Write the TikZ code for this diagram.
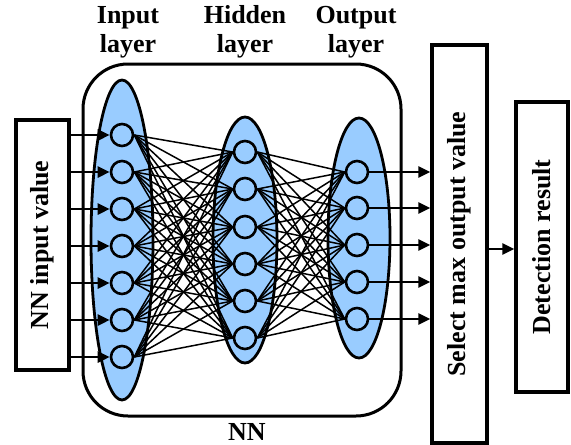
\documentclass[tikz,border=0pt]{standalone}
\usepackage{fontspec}
\setmainfont{Liberation Serif}
\usetikzlibrary{arrows.meta}
\definecolor{layerblue}{RGB}{153,204,255}
\pgfdeclarelayer{ellipses}
\pgfdeclarelayer{edges}
\pgfsetlayers{ellipses,edges,main}
\begin{document}
\begin{tikzpicture}[x=1pt,y=-1pt,
  lbl/.style={font=\fontsize{26}{29}\selectfont\bfseries, align=center, inner sep=0pt},
  box/.style={draw, line width=3.2pt, minimum width=#1, inner sep=0pt},
  layer/.style={draw, line width=2.8pt, fill=layerblue},
  neuron/.style={circle, draw, line width=2.6pt, fill=layerblue, minimum size=22pt, inner sep=0pt},
  conn/.style={line width=1.5pt},
  arr/.style={line width=2.6pt, -{Triangle[length=12pt,width=11pt]}}
]
\useasboundingbox (0,0) rectangle (571,445);

% NN frame
\draw[line width=3pt, rounded corners=45pt] (83,64) rectangle (401,416);

% neurons
\foreach \i/\y in {1/135,2/172,3/209,4/246,5/283,6/320,7/357}
  \node[neuron] (i\i) at (122,\y) {};
\foreach \i/\y in {1/152,2/189,3/227,4/264,5/301,6/338}
  \node[neuron] (h\i) at (245,\y) {};
\foreach \i/\y in {1/172,2/208,3/245,4/282,5/319}
  \node[neuron] (o\i) at (357,\y) {};

% layer ellipses
\begin{pgfonlayer}{ellipses}
\draw[layer] (122,240) ellipse [x radius=31, y radius=160];
\draw[layer] (245,240) ellipse [x radius=32, y radius=123];
\draw[layer] (359,238) ellipse [x radius=31, y radius=120];
\end{pgfonlayer}

% connections
\begin{pgfonlayer}{edges}
\foreach \a in {1,...,7}
  \foreach \b in {1,...,6}
    \draw[conn] (i\a.east) -- (h\b.west);
\foreach \a in {1,...,6}
  \foreach \b in {1,...,5}
    \draw[conn] (h\a.east) -- (o\b.west);
\end{pgfonlayer}

% boxes
\node[box=53pt, minimum height=250pt] (inp) at (42.5,245) {};
\node[lbl, rotate=90] at (inp.center) {NN input value};
\node[box=55pt, minimum height=398pt] (sel) at (459.5,244) {};
\node[lbl, rotate=90] (selt) at (459.5,244) {Select max output value};
\node[box=52pt, minimum height=290pt] (det) at (542,247) {};
\node[lbl, rotate=90] at (det.center) {Detection result};

% arrows
\foreach \i in {1,...,7}
  \draw[arr] (inp.east |- i\i) -- (i\i.west);
\foreach \i in {1,...,5}
  \draw[arr] (o\i.east) -- (sel.west |- o\i);
\coordinate (selout) at (487,249);
\draw[arr] (selout) -- (det.west |- selout);

% labels
\node[lbl] (lin) at (128,32) {Input\\layer};
\node[lbl] (lhid) at (245,32) {Hidden\\layer};
\node[lbl] (lout) at (356,32) {Output\\layer};
\node[lbl] (lnn) at (247,432) {NN};
\end{tikzpicture}
\end{document}
